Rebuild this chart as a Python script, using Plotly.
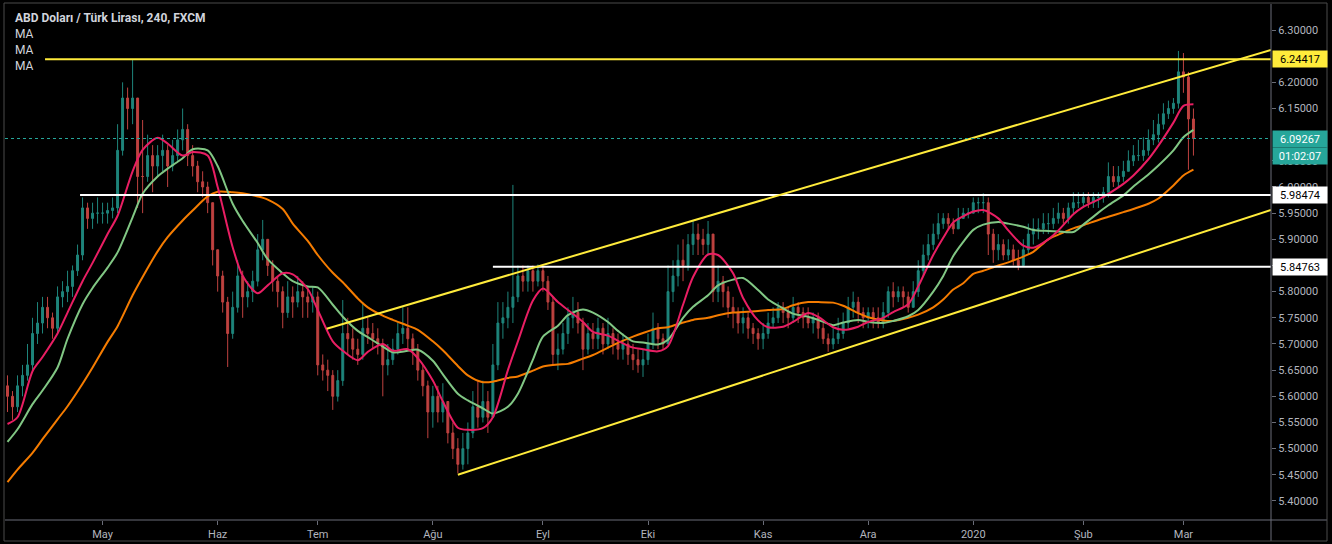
import pandas as pd
import plotly.graph_objects as go

# ---------------- data ----------------
holidays = ["2019-12-25", "2020-01-01"]
dates = pd.bdate_range("2019-04-04", "2020-03-04", freq="C", holidays=holidays)

first_open = 5.62
closes = [
    # Apr
    5.60, 5.58, 5.62, 5.64, 5.66, 5.72, 5.74, 5.77, 5.75, 5.73, 5.79, 5.80, 5.81, 5.84, 5.87, 5.96, 5.94, 5.95, 5.95,
    # May
    5.95, 5.955, 5.96, 6.07, 6.17, 6.15, 6.17, 6.02, 6.02, 6.06, 6.04, 6.06, 6.07, 6.04, 6.06, 6.09, 6.11, 6.06, 6.04, 6.01, 6.00, 5.97, 5.88,
    # Jun
    5.83, 5.78, 5.72, 5.77, 5.83, 5.79, 5.80, 5.82, 5.88, 5.90, 5.85, 5.82, 5.80, 5.76, 5.79, 5.78, 5.80, 5.79, 5.78, 5.79,
    # Jul
    5.66, 5.65, 5.64, 5.60, 5.63, 5.72, 5.71, 5.69, 5.68, 5.73, 5.72, 5.71, 5.70, 5.66, 5.67, 5.69, 5.72, 5.73, 5.71, 5.69, 5.65, 5.62, 5.57,
    # Aug
    5.60, 5.57, 5.59, 5.53, 5.50, 5.47, 5.50, 5.53, 5.58, 5.56, 5.59, 5.56, 5.66, 5.74, 5.75, 5.77, 5.79, 5.83, 5.82, 5.84, 5.82, 5.84,
    # Sep
    5.82, 5.78, 5.68, 5.69, 5.72, 5.75, 5.76, 5.74, 5.69, 5.72, 5.71, 5.73, 5.70, 5.72, 5.70, 5.69, 5.70, 5.68, 5.67, 5.66, 5.67,
    # Oct
    5.70, 5.73, 5.71, 5.70, 5.80, 5.83, 5.86, 5.85, 5.89, 5.91, 5.90, 5.89, 5.91, 5.80, 5.82, 5.80, 5.77, 5.76, 5.74, 5.75, 5.73, 5.72, 5.71,
    # Nov
    5.72, 5.74, 5.75, 5.77, 5.76, 5.75, 5.77, 5.76, 5.75, 5.74, 5.75, 5.73, 5.71, 5.70, 5.71, 5.72, 5.74, 5.77, 5.78, 5.76, 5.75,
    # Dec
    5.76, 5.75, 5.74, 5.76, 5.80, 5.79, 5.80, 5.79, 5.77, 5.80, 5.84, 5.87, 5.89, 5.91, 5.93, 5.94, 5.93, 5.92, 5.94, 5.95, 5.95,
    # Jan
    5.97, 5.97, 5.97, 5.91, 5.88, 5.89, 5.87, 5.88, 5.86, 5.85, 5.88, 5.91, 5.92, 5.92, 5.93, 5.93, 5.94, 5.95, 5.94, 5.96, 5.97, 5.97,
    # Feb
    5.98, 5.97, 5.98, 5.98, 5.99, 6.02, 6.01, 6.02, 6.03, 6.05, 6.06, 6.06, 6.07, 6.09, 6.10, 6.12, 6.14, 6.15, 6.16, 6.22,
    # Mar
    6.21, 6.13, 6.09267,
]
highs = [
    5.64, 5.61, 5.64, 5.66, 5.70, 5.75, 5.78, 5.79, 5.79, 5.76, 5.81, 5.82, 5.84, 5.85, 5.89, 5.98, 5.97, 5.97, 5.98,
    5.97, 5.97, 5.98, 6.12, 6.20, 6.19, 6.243, 6.16, 6.128, 6.10, 6.08, 6.08, 6.10, 6.08, 6.09, 6.11, 6.15, 6.12, 6.08, 6.05, 6.03, 6.01, 5.97,
    5.88, 5.84, 5.79, 5.80, 5.86, 5.84, 5.82, 5.84, 5.91, 5.937, 5.90, 5.86, 5.83, 5.81, 5.82, 5.81, 5.83, 5.82, 5.81, 5.81,
    5.80, 5.68, 5.67, 5.65, 5.65, 5.784, 5.75, 5.73, 5.71, 5.78, 5.75, 5.74, 5.73, 5.71, 5.70, 5.71, 5.74, 5.77, 5.77, 5.72, 5.70, 5.66, 5.63,
    5.62, 5.62, 5.625, 5.59, 5.55, 5.52, 5.53, 5.55, 5.61, 5.63, 5.63, 5.61, 5.70, 5.78, 5.78, 5.80, 6.004, 5.85, 5.85, 5.85, 5.85, 5.852,
    5.85, 5.83, 5.79, 5.72, 5.74, 5.77, 5.79, 5.78, 5.75, 5.74, 5.74, 5.75, 5.74, 5.75, 5.73, 5.72, 5.72, 5.71, 5.70, 5.69, 5.69,
    5.72, 5.76, 5.74, 5.72, 5.85, 5.86, 5.89, 5.90, 5.91, 5.937, 5.93, 5.92, 5.935, 5.91, 5.85, 5.83, 5.81, 5.79, 5.77, 5.77, 5.76, 5.74, 5.73,
    5.74, 5.76, 5.77, 5.78, 5.78, 5.77, 5.79, 5.78, 5.77, 5.77, 5.76, 5.76, 5.74, 5.72, 5.73, 5.75, 5.76, 5.79, 5.80, 5.79, 5.77,
    5.77, 5.77, 5.77, 5.78, 5.81, 5.818, 5.81, 5.81, 5.80, 5.82, 5.86, 5.89, 5.91, 5.93, 5.95, 5.95, 5.95, 5.94, 5.96, 5.96, 5.96,
    5.98, 5.98, 5.988, 5.98, 5.92, 5.91, 5.90, 5.90, 5.89, 5.88, 5.90, 5.93, 5.94, 5.94, 5.95, 5.95, 5.96, 5.97, 5.96, 5.97, 5.99, 5.99,
    5.99, 5.99, 5.99, 5.99, 6.00, 6.047, 6.04, 6.04, 6.05, 6.07, 6.08, 6.09, 6.095, 6.11, 6.128, 6.14, 6.16, 6.165, 6.17, 6.26,
    6.256, 6.22, 6.15,
]
lows = [
    5.57, 5.555, 5.57, 5.60, 5.63, 5.65, 5.70, 5.72, 5.73, 5.71, 5.72, 5.77, 5.78, 5.79, 5.83, 5.86, 5.92, 5.92, 5.93,
    5.93, 5.93, 5.94, 5.95, 6.06, 6.11, 6.12, 5.96, 5.95, 6.01, 5.99, 6.02, 6.03, 6.00, 6.03, 6.05, 6.07, 6.04, 6.02, 5.99, 5.98, 5.95, 5.85,
    5.80, 5.76, 5.656, 5.71, 5.76, 5.75, 5.77, 5.78, 5.81, 5.86, 5.83, 5.80, 5.77, 5.73, 5.75, 5.75, 5.77, 5.75, 5.75, 5.76,
    5.64, 5.63, 5.61, 5.574, 5.59, 5.62, 5.68, 5.67, 5.66, 5.67, 5.70, 5.69, 5.68, 5.60, 5.64, 5.66, 5.68, 5.70, 5.69, 5.66, 5.63, 5.60, 5.52,
    5.54, 5.55, 5.55, 5.51, 5.48, 5.453, 5.46, 5.47, 5.52, 5.54, 5.55, 5.53, 5.56, 5.65, 5.71, 5.73, 5.74, 5.78, 5.80, 5.80, 5.80, 5.81,
    5.80, 5.765, 5.66, 5.65, 5.68, 5.70, 5.73, 5.72, 5.65, 5.68, 5.69, 5.69, 5.68, 5.69, 5.68, 5.67, 5.67, 5.66, 5.65, 5.645, 5.637,
    5.66, 5.69, 5.69, 5.69, 5.70, 5.78, 5.81, 5.82, 5.84, 5.87, 5.87, 5.87, 5.87, 5.78, 5.78, 5.77, 5.75, 5.73, 5.72, 5.72, 5.71, 5.70, 5.689,
    5.69, 5.71, 5.73, 5.74, 5.74, 5.73, 5.74, 5.74, 5.73, 5.73, 5.72, 5.71, 5.70, 5.685, 5.69, 5.70, 5.71, 5.73, 5.75, 5.74, 5.73,
    5.73, 5.73, 5.73, 5.73, 5.75, 5.77, 5.78, 5.77, 5.76, 5.77, 5.79, 5.83, 5.86, 5.88, 5.90, 5.92, 5.92, 5.91, 5.92, 5.94, 5.94,
    5.95, 5.95, 5.95, 5.87, 5.855, 5.86, 5.86, 5.86, 5.85, 5.841, 5.85, 5.87, 5.89, 5.90, 5.91, 5.91, 5.92, 5.93, 5.93, 5.93, 5.95, 5.96,
    5.96, 5.96, 5.96, 5.96, 5.97, 5.98, 6.00, 6.00, 6.01, 6.03, 6.04, 6.05, 6.05, 6.06, 6.08, 6.085, 6.11, 6.13, 6.14, 6.15,
    6.18, 6.033, 6.06,
]

ma_dates = [
    "2019-04-04", "2019-04-08", "2019-04-11", "2019-04-15", "2019-04-18", "2019-04-22", "2019-04-25", "2019-04-29",
    "2019-05-02", "2019-05-06", "2019-05-09", "2019-05-13", "2019-05-16", "2019-05-20", "2019-05-23", "2019-05-27", "2019-05-30",
    "2019-06-03", "2019-06-06", "2019-06-10", "2019-06-13", "2019-06-17", "2019-06-20", "2019-06-24", "2019-06-27",
    "2019-07-01", "2019-07-04", "2019-07-08", "2019-07-11", "2019-07-15", "2019-07-18", "2019-07-22", "2019-07-25", "2019-07-29",
    "2019-08-01", "2019-08-05", "2019-08-08", "2019-08-12", "2019-08-15", "2019-08-19", "2019-08-22", "2019-08-26", "2019-08-29",
    "2019-09-02", "2019-09-05", "2019-09-09", "2019-09-12", "2019-09-16", "2019-09-19", "2019-09-23", "2019-09-26", "2019-09-30",
    "2019-10-03", "2019-10-07", "2019-10-10", "2019-10-14", "2019-10-17", "2019-10-21", "2019-10-24", "2019-10-28", "2019-10-31",
    "2019-11-04", "2019-11-07", "2019-11-11", "2019-11-14", "2019-11-18", "2019-11-21", "2019-11-25", "2019-11-28",
    "2019-12-02", "2019-12-05", "2019-12-09", "2019-12-12", "2019-12-16", "2019-12-19", "2019-12-23", "2019-12-26", "2019-12-30",
    "2020-01-02", "2020-01-06", "2020-01-09", "2020-01-13", "2020-01-16", "2020-01-20", "2020-01-23", "2020-01-27", "2020-01-30",
    "2020-02-03", "2020-02-06", "2020-02-10", "2020-02-13", "2020-02-17", "2020-02-20", "2020-02-24", "2020-02-27",
    "2020-03-02", "2020-03-04",
]
ma_fast = [
    5.547, 5.56, 5.648, 5.675, 5.72, 5.76, 5.82, 5.855,
    5.91, 5.945, 6.03, 6.071, 6.094, 6.083, 6.06, 6.067, 6.06,
    6.00, 5.885, 5.83, 5.797, 5.812, 5.835, 5.833, 5.805,
    5.765, 5.705, 5.687, 5.669, 5.685, 5.70, 5.687, 5.69, 5.673,
    5.63, 5.59, 5.54, 5.536, 5.539, 5.56, 5.65, 5.705, 5.783,
    5.806, 5.78, 5.765, 5.742, 5.723, 5.716, 5.706, 5.693, 5.69,
    5.686, 5.696, 5.775, 5.828, 5.871, 5.87, 5.835, 5.788, 5.745,
    5.732, 5.733, 5.742, 5.759, 5.752, 5.732, 5.727, 5.733,
    5.742, 5.75, 5.761, 5.776, 5.81, 5.87, 5.903, 5.932, 5.944,
    5.953, 5.956, 5.94, 5.917, 5.888, 5.884, 5.90, 5.917, 5.948,
    5.962, 5.976, 5.987, 6.006, 6.022, 6.053, 6.079, 6.123,
    6.155, 6.158,
]
ma_mid = [
    5.513, 5.537, 5.585, 5.611, 5.655, 5.71, 5.776, 5.807,
    5.846, 5.875, 5.942, 5.987, 6.02, 6.035, 6.055, 6.072, 6.07,
    6.04, 5.968, 5.935, 5.893, 5.862, 5.835, 5.82, 5.81,
    5.808, 5.775, 5.752, 5.725, 5.713, 5.695, 5.684, 5.687, 5.689,
    5.668, 5.642, 5.605, 5.592, 5.577, 5.567, 5.58, 5.605, 5.67,
    5.714, 5.735, 5.755, 5.766, 5.76, 5.742, 5.725, 5.705, 5.703,
    5.699, 5.708, 5.75, 5.771, 5.793, 5.812, 5.823, 5.826, 5.803,
    5.785, 5.768, 5.758, 5.752, 5.746, 5.736, 5.741, 5.746,
    5.742, 5.74, 5.744, 5.753, 5.765, 5.80, 5.83, 5.868, 5.895,
    5.918, 5.928, 5.933, 5.93, 5.924, 5.918, 5.916, 5.915, 5.914,
    5.928, 5.951, 5.965, 5.984, 6.001, 6.024, 6.041, 6.07,
    6.095, 6.109,
]
ma_slow = [
    5.436, 5.46, 5.492, 5.518, 5.556, 5.581, 5.624, 5.655,
    5.704, 5.734, 5.793, 5.828, 5.877, 5.904, 5.936, 5.955, 5.982,
    5.991, 5.99, 5.988, 5.982, 5.976, 5.958, 5.93, 5.897,
    5.87, 5.836, 5.818, 5.787, 5.77, 5.754, 5.746, 5.735, 5.727,
    5.705, 5.688, 5.658, 5.64, 5.627, 5.628, 5.635, 5.638, 5.649,
    5.657, 5.661, 5.662, 5.672, 5.679, 5.693, 5.702, 5.714, 5.721,
    5.73, 5.732, 5.741, 5.746, 5.75, 5.755, 5.76, 5.761, 5.763,
    5.765, 5.767, 5.774, 5.78, 5.78, 5.779, 5.773, 5.759,
    5.751, 5.745, 5.744, 5.75, 5.756, 5.77, 5.785, 5.804, 5.816,
    5.834, 5.84, 5.85, 5.856, 5.867, 5.876, 5.90, 5.909, 5.921,
    5.927, 5.937, 5.943, 5.952, 5.958, 5.968, 5.978, 6.003,
    6.022, 6.033,
]

x_start = "2019-04-03 12:00"
x_end = "2020-03-25 12:00"

res_level = 6.24417
res_from = "2019-04-15 12:00"
sup_levels = [5.98474, 5.84763]
sup_from = ["2019-04-24 12:00", "2019-08-19"]
chan_upper_x = ["2019-07-02 19:00", x_end]
chan_upper_y = [5.729, 6.262]
chan_lower_x = ["2019-08-08", x_end]
chan_lower_y = [5.450, 5.956]
last_price = 6.09267
countdown = "01:02:07"

# price-scale ticks (6.25 and 6.10 sit fully under the price boxes in the reference)
y_ticks = [5.40, 5.45, 5.50, 5.55, 5.60, 5.65, 5.70, 5.75, 5.80, 5.85, 5.90, 5.95,
           6.00, 6.05, 6.15, 6.20, 6.30]

month_ticks = ["2019-05-01", "2019-06-03", "2019-07-01", "2019-08-01", "2019-09-02", "2019-10-01",
               "2019-11-01", "2019-12-02", "2020-01-02", "2020-02-03", "2020-03-02"]
month_labels = ["May", "Haz", "Tem", "Ağu", "Eyl", "Eki", "Kas", "Ara", "2020", "Şub", "Mar"]

title_text = "ABD Doları / Türk Lirası, 240, FXCM"
legend_rows = ["MA", "MA", "MA"]

# ---------------- styling ----------------
UP = "#26a69a"
DN = "#ef5350"
PINK = "#e91e63"
GREEN = "#81c784"
ORANGE = "#f57c00"
YELLOW = "#ffeb3b"
WHITE = "#ffffff"
AXIS = "#6a6d78"
TXT = "#b2b5be"
FONT = "Liberation Sans Narrow, Roboto, Liberation Sans, sans-serif"

assert len(closes) == len(dates) == len(highs) == len(lows)
assert len(ma_dates) == len(ma_fast) == len(ma_mid) == len(ma_slow)

opens = [first_open] + closes[:-1]
highs = [max(h, o, c) for h, o, c in zip(highs, opens, closes)]
lows = [min(l, o, c) for l, o, c in zip(lows, opens, closes)]

fig = go.Figure()
fig.add_trace(go.Candlestick(
    x=dates, open=opens, high=highs, low=lows, close=closes,
    increasing=dict(line=dict(color=UP, width=1), fillcolor=UP),
    decreasing=dict(line=dict(color=DN, width=1), fillcolor=DN),
    whiskerwidth=0, showlegend=False, hoverinfo="skip", opacity=0.8,
))
for vals, col in [(ma_slow, ORANGE), (ma_mid, GREEN), (ma_fast, PINK)]:
    fig.add_trace(go.Scatter(x=ma_dates, y=vals, mode="lines",
                             line=dict(color=col, width=2, shape="spline", smoothing=0.8),
                             showlegend=False, hoverinfo="skip"))

fig.add_trace(go.Scatter(x=[res_from, x_end], y=[res_level, res_level], mode="lines",
                         line=dict(color=YELLOW, width=2), showlegend=False, hoverinfo="skip"))
for lvl, start in zip(sup_levels, sup_from):
    fig.add_trace(go.Scatter(x=[start, x_end], y=[lvl, lvl], mode="lines",
                             line=dict(color=WHITE, width=2), showlegend=False, hoverinfo="skip"))
fig.add_trace(go.Scatter(x=chan_upper_x, y=chan_upper_y, mode="lines",
                         line=dict(color=YELLOW, width=2), showlegend=False, hoverinfo="skip"))
fig.add_trace(go.Scatter(x=chan_lower_x, y=chan_lower_y, mode="lines",
                         line=dict(color=YELLOW, width=2), showlegend=False, hoverinfo="skip"))

W, H = 1332, 544
ml, mr, mt, mb = 5, 61, 4, 24
pw, ph = W - ml - mr, H - mt - mb


def px_x(px):
    return (px - ml) / pw


def px_y(py):
    return (H - mb - py) / ph


shapes = [
    dict(type="line", xref="paper", yref="y", x0=0, x1=1, y0=last_price, y1=last_price,
         line=dict(color=UP, width=1, dash="dot")),
    dict(type="line", xref="paper", yref="paper", x0=0, x1=px_x(1327), y0=0, y1=0,
         line=dict(color=AXIS, width=1)),
    dict(type="line", xref="paper", yref="paper", x0=1, x1=1, y0=px_y(541), y1=1,
         line=dict(color=AXIS, width=1)),
    dict(type="rect", xref="paper", yref="paper", x0=px_x(4), x1=px_x(1327), y0=px_y(541), y1=px_y(3),
         line=dict(color="#4a4a4a", width=1)),
]

annotations = [
    dict(xref="paper", yref="paper", x=px_x(13), y=px_y(18), xanchor="left", yanchor="middle",
         text="<b>" + title_text + "</b>", showarrow=False, font=dict(color="#d1d4dc", size=12, family=FONT)),
]
for k, row in enumerate(legend_rows):
    annotations.append(dict(xref="paper", yref="paper", x=px_x(13), y=px_y(34 + 16 * k), xanchor="left",
                            yanchor="middle", text=row, showarrow=False,
                            font=dict(color="#d1d4dc", size=12, family=FONT)))


def price_box(val, text, bg, fg, yshift=0):
    return dict(xref="paper", yref="y", x=1, y=val, xanchor="left", yanchor="middle", xshift=1, yshift=yshift,
                text=text, showarrow=False, bgcolor=bg, width=50, height=12, borderpad=2, align="center",
                font=dict(color=fg, size=11, family=FONT))


annotations += [
    price_box(res_level, f"{res_level:.5f}", YELLOW, "#000000"),
    price_box(last_price, f"{last_price:.5f}", UP, "#ffffff"),
    price_box(last_price, countdown, UP, "#ffffff", yshift=-17),
    price_box(sup_levels[0], f"{sup_levels[0]:.5f}", WHITE, "#000000"),
    price_box(sup_levels[1], f"{sup_levels[1]:.5f}", WHITE, "#000000"),
]

fig.update_layout(
    width=W, height=H, margin=dict(l=ml, r=mr, t=mt, b=mb),
    paper_bgcolor="#000000", plot_bgcolor="#000000",
    boxgap=0.45,
    font=dict(family=FONT, color=TXT, size=11),
    xaxis=dict(type="date", range=[x_start, x_end],
               rangebreaks=[dict(bounds=["sat", "mon"]), dict(values=holidays)],
               rangeslider=dict(visible=False), showgrid=False, zeroline=False, showline=False,
               tickmode="array", tickvals=month_ticks, ticktext=month_labels,
               ticks="outside", ticklen=4, tickcolor=AXIS,
               tickfont=dict(color=TXT, size=11, family=FONT)),
    yaxis=dict(side="right", range=[5.3636, 6.3497], tickmode="array", tickvals=y_ticks, tickformat=".5f",
               showgrid=False, zeroline=False, showline=False, ticks="outside", ticklen=4, tickcolor=AXIS,
               tickfont=dict(color=TXT, size=11, family=FONT)),
    shapes=shapes, annotations=annotations,
)

fig.write_html("out.html")
